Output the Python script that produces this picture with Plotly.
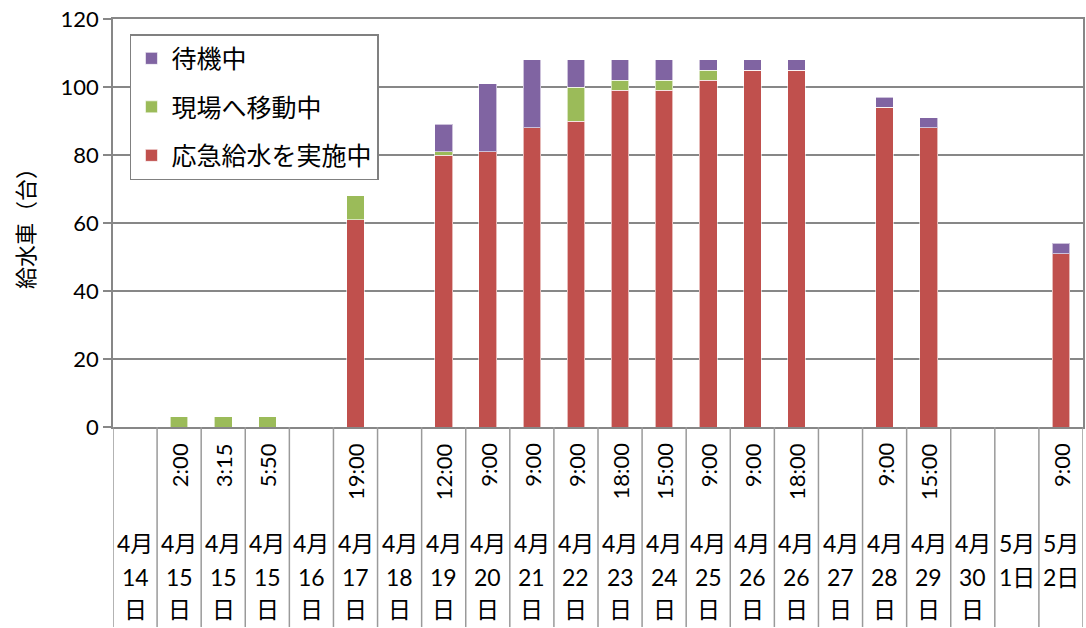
import plotly.graph_objects as go

# 日付・時刻ラベル
months = ["4月", "4月", "4月", "4月", "4月", "4月", "4月", "4月", "4月", "4月", "4月",
          "4月", "4月", "4月", "4月", "4月", "4月", "4月", "4月", "4月", "5月", "5月"]
days = ["14", "15", "15", "15", "16", "17", "18", "19", "20", "21", "22",
        "23", "24", "25", "26", "26", "27", "28", "29", "30", "1日", "2日"]
day_suffix = ["日", "日", "日", "日", "日", "日", "日", "日", "日", "日", "日",
              "日", "日", "日", "日", "日", "日", "日", "日", "日", "", ""]
times = ["", "2:00", "3:15", "5:50", "", "19:00", "", "12:00", "9:00", "9:00", "9:00",
         "18:00", "15:00", "9:00", "9:00", "18:00", "", "9:00", "15:00", "", "", "9:00"]

# 台数
jisshi = [0, 0, 0, 0, 0, 61, 0, 80, 81, 88, 90, 99, 99, 102, 105, 105, 0, 94, 88, 0, 0, 51]
idou = [0, 3, 3, 3, 0, 7, 0, 1, 0, 0, 10, 3, 3, 3, 0, 0, 0, 0, 0, 0, 0, 0]
taiki = [0, 0, 0, 0, 0, 0, 0, 8, 20, 20, 8, 6, 6, 3, 3, 3, 0, 3, 3, 0, 0, 3]

cats = [f"{m}{d}{s} {t}".strip() for m, d, s, t in zip(months, days, day_suffix, times)]

FONT = "Lato, Noto Sans CJK JP, sans-serif"

fig = go.Figure()
for name, vals, col, rank in [
    ("応急給水を実施中", jisshi, "#C0504D", 3),
    ("現場へ移動中", idou, "#9BBB59", 2),
    ("待機中", taiki, "#8064A2", 1),
]:
    fig.add_trace(go.Bar(x=cats, y=vals, name=name, marker_color=col,
                         marker_line=dict(color="rgba(255,255,255,0.6)", width=1),
                         legendgroup=name, legendrank=rank, width=0.4))

fig.update_layout(
    width=1086, height=628,
    barmode="stack",
    margin=dict(l=113, r=3, t=19, b=201, autoexpand=False),
    plot_bgcolor="white", paper_bgcolor="white",
    font=dict(family=FONT, size=22, color="black"),
    showlegend=True,
    legend=dict(x=0.0175, y=0.963, xanchor="left", yanchor="top",
                traceorder="grouped", tracegroupgap=13,
                bordercolor="#808080", borderwidth=1.5,
                font=dict(size=25), itemwidth=30),
)
fig.update_xaxes(showticklabels=False, ticks="", showline=True, linecolor="#878787",
                 linewidth=1.5, mirror=True, range=[-0.5, 21.5], automargin=False)
fig.update_yaxes(range=[0, 120], dtick=20, showgrid=True, gridcolor="#878787", gridwidth=1.5,
                 showline=True, linecolor="#878787", linewidth=1.5, mirror=True,
                 ticks="outside", ticklen=8, tickcolor="#878787", tickwidth=1.5,
                 tickfont=dict(size=22), ticklabeloverflow="allow", automargin=False,
                 title=dict(text="給水車（台）", font=dict(size=22), standoff=20))

# 下部のラベル表
ph = 408.0
def py(pix):
    return -(pix - 427) / ph

for i in range(len(cats) + 1):
    fig.add_shape(type="line", xref="x", yref="paper", x0=i - 0.5, x1=i - 0.5,
                  y0=0, y1=py(627), line=dict(color="#9a9a9a", width=1.5))

for i, c in enumerate(cats):
    if times[i]:
        fig.add_annotation(x=c, xref="x", yref="paper", y=py(441), text=times[i],
                           textangle=-90, showarrow=False, yanchor="top",
                           font=dict(size=22))
    for txt, pix in [(months[i], 543), (days[i], 577), (day_suffix[i], 609)]:
        if txt:
            fig.add_annotation(x=c, xref="x", yref="paper", y=py(pix), text=txt,
                               showarrow=False, yanchor="middle", font=dict(size=23))

# ページ既定の余白をなくす
fig.write_html("out.html", config={"displayModeBar": False},
               post_script="document.body.style.margin='0';")
